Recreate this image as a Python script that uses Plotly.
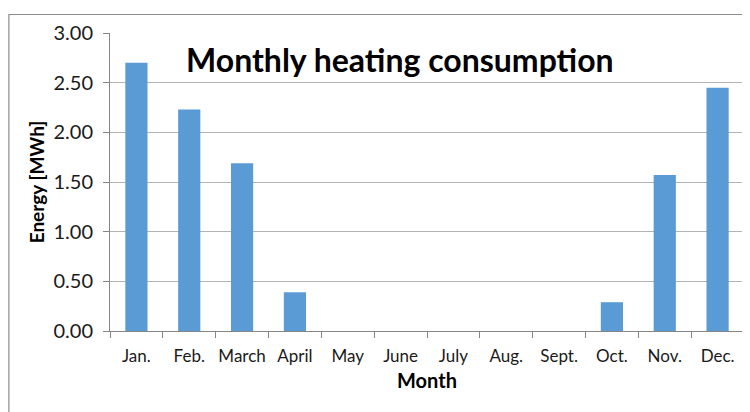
import plotly.graph_objects as go

months = ["Jan.", "Feb.", "March", "April", "May", "June", "July",
          "Aug.", "Sept.", "Oct.", "Nov.", "Dec."]
energy_mwh = [2.70, 2.23, 1.69, 0.39, 0, 0, 0, 0, 0, 0.29, 1.57, 2.45]

font_family = "Lato, Carlito, Calibri, sans-serif"

fig = go.Figure(go.Bar(
    x=months, y=energy_mwh,
    marker=dict(color="#5b9bd5", line=dict(width=0)),
    width=0.42,
))

# page body has an 8px margin, so the figure is sized to fit the 750x412 window
fig.update_layout(
    width=742, height=404,
    margin=dict(l=102, r=6, t=25, b=81),
    paper_bgcolor="white", plot_bgcolor="white",
    showlegend=False,
    font=dict(family=font_family, size=16, color="#1a1a1a"),
    annotations=[dict(
        text="<b>Monthly heating consumption</b>",
        xref="paper", yref="paper", x=0.457, y=0.912,
        xanchor="center", yanchor="middle", showarrow=False,
        font=dict(family=font_family, size=32, color="black"),
    )],
    shapes=[dict(
        type="rect", xref="paper", yref="paper",
        x0=-0.1595, y0=-0.4, x1=1.1, y1=1.062,
        line=dict(color="#8c8c8c", width=1.2), fillcolor="rgba(0,0,0,0)",
        layer="below",
    )],
)

fig.update_xaxes(
    showline=True, linecolor="#868686", linewidth=1,
    ticks="outside", tickson="boundaries", ticklen=6, tickcolor="#868686",
    tickangle=0, automargin=False, ticklabelstandoff=10,
    tickfont=dict(size=17, color="#1a1a1a"),
    title=dict(text="<b>Month</b>", font=dict(size=20, color="black"), standoff=8),
    showgrid=False,
)
fig.update_yaxes(
    range=[0, 3], dtick=0.5, tickformat=".2f",
    showline=True, linecolor="#868686", linewidth=1,
    ticks="outside", ticklen=6, tickcolor="#868686",
    gridcolor="#b3b3b3", gridwidth=1,
    zeroline=False, automargin=False, ticklabelstandoff=6,
    tickfont=dict(size=20, color="#1a1a1a"),
    title=dict(text="<b>Energy [MWh]</b>", font=dict(size=19, color="black"), standoff=3),
)

fig.write_html("out.html")
